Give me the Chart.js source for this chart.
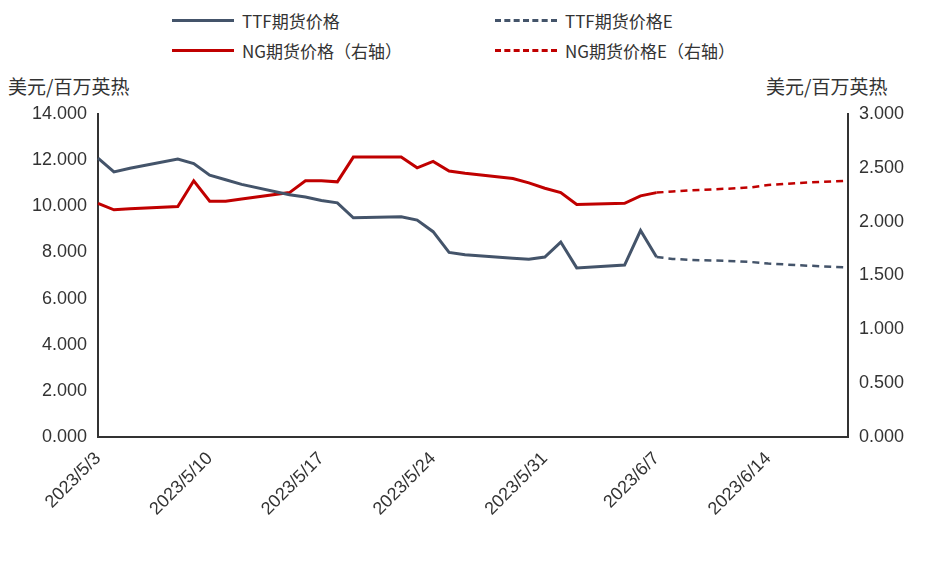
<!DOCTYPE html>
<html><head><meta charset="utf-8">
<script src="https://cdn.jsdelivr.net/npm/chart.js@4/dist/chart.umd.min.js"></script>
<style>
body{margin:0;background:#fff;font-family:"Noto Sans CJK SC","Liberation Sans",sans-serif;}
#wrap{position:relative;width:940px;height:564px;}
.lg{position:absolute;font-size:17px;color:#333;display:flex;align-items:center;}
.lg i{display:inline-block;width:62px;height:0;margin-right:8px;border-top:3px solid}
.ut{position:absolute;font-size:19px;color:#333;top:72px;}
</style></head><body>
<div id="wrap">
<div class="lg" style="left:172px;top:8px"><i style="border-color:#44546A"></i>TTF期货价格</div>
<div class="lg" style="left:495px;top:8px"><i style="border-color:#44546A;border-top-style:dashed"></i>TTF期货价格E</div>
<div class="lg" style="left:172px;top:38px"><i style="border-color:#C00000"></i>NG期货价格（右轴）</div>
<div class="lg" style="left:495px;top:38px"><i style="border-color:#C00000;border-top-style:dashed"></i>NG期货价格E（右轴）</div>
<div class="ut" style="left:8px">美元/百万英热</div>
<div class="ut" style="left:766px">美元/百万英热</div>
<canvas id="c" style="position:absolute;left:0;top:0"></canvas>
</div>
<script>
// daily dates 5/3 .. 6/19
const dates = [];
for (let d = new Date(2023, 4, 3); d <= new Date(2023, 5, 19); d.setDate(d.getDate() + 1)) {
    dates.push('2023/' + (d.getMonth() + 1) + '/' + d.getDate());
}
const ttfDates = ['2023/5/3','2023/5/4','2023/5/5','2023/5/8','2023/5/9','2023/5/10','2023/5/11','2023/5/12','2023/5/15','2023/5/16','2023/5/17','2023/5/18','2023/5/19','2023/5/22','2023/5/23','2023/5/24','2023/5/25','2023/5/26','2023/5/29','2023/5/30','2023/5/31','2023/6/1','2023/6/2','2023/6/5','2023/6/6','2023/6/7'];
const ttf = [12.09,11.49,11.65,12.05,11.85,11.35,11.15,10.95,10.5,10.4,10.25,10.15,9.5,9.55,9.4,8.9,8.0,7.9,7.75,7.7,7.8,8.45,7.33,7.45,8.95,7.8];
const ng = [2.17,2.11,2.12,2.14,2.38,2.19,2.19,2.21,2.27,2.38,2.38,2.37,2.6,2.6,2.5,2.56,2.47,2.45,2.4,2.36,2.31,2.27,2.16,2.17,2.24,2.27];
const estDates = ['2023/6/7','2023/6/8','2023/6/9','2023/6/12','2023/6/13','2023/6/14','2023/6/15','2023/6/16','2023/6/19'];
const ttfE = [7.8,7.72,7.68,7.62,7.58,7.52,7.48,7.44,7.35];
const ngE = [2.27,2.28,2.29,2.31,2.32,2.34,2.35,2.36,2.38];

function series(keys, vals) {
    return dates.map(d => { const i = keys.indexOf(d); return i < 0 ? null : vals[i]; });
}
const cv = document.getElementById('c');
cv.width = 940; cv.height = 564;
const tickFont = {family: '"Liberation Sans", sans-serif', size: 18};
new Chart(cv.getContext('2d'), {
    type: 'line',
    data: {labels: dates, datasets: [
        {data: series(ttfDates, ttf), borderColor: '#44546A', borderWidth: 3, yAxisID: 'y', spanGaps: true, pointRadius: 0},
        {data: series(estDates, ttfE), borderColor: '#44546A', borderWidth: 2.5, borderDash: [7, 5], yAxisID: 'y', spanGaps: true, pointRadius: 0},
        {data: series(ttfDates, ng), borderColor: '#C00000', borderWidth: 3, yAxisID: 'y2', spanGaps: true, pointRadius: 0},
        {data: series(estDates, ngE), borderColor: '#C00000', borderWidth: 2.5, borderDash: [7, 5], yAxisID: 'y2', spanGaps: true, pointRadius: 0}
    ]},
    options: {
        responsive: false, animation: false,
        layout: {padding: {top: 114, left: 0, right: 0, bottom: 0}},
        plugins: {legend: {display: false}, tooltip: {enabled: false}},
        scales: {
            x: {
                offset: false,
                grid: {display: false, drawTicks: true},
                border: {color: '#333', width: 2},
                afterFit: s => { s.height = 127; },
                ticks: {autoSkip: false, maxRotation: 45, minRotation: 45, color: '#333', font: tickFont,
                    callback: (v, i) => i % 7 === 0 ? dates[i] : ''}
            },
            y: {
                min: 0, max: 14, position: 'left',
                grid: {display: false},
                border: {color: '#333', width: 2},
                afterFit: s => { s.width = 98; },
                ticks: {stepSize: 2, color: '#333', font: tickFont, callback: v => v.toFixed(3)}
            },
            y2: {
                min: 0, max: 3, position: 'right',
                grid: {display: false},
                border: {color: '#333', width: 2},
                afterFit: s => { s.width = 92; },
                ticks: {stepSize: 0.5, color: '#333', font: tickFont, callback: v => v.toFixed(3)}
            }
        }
    }
});
</script>
</body></html>
